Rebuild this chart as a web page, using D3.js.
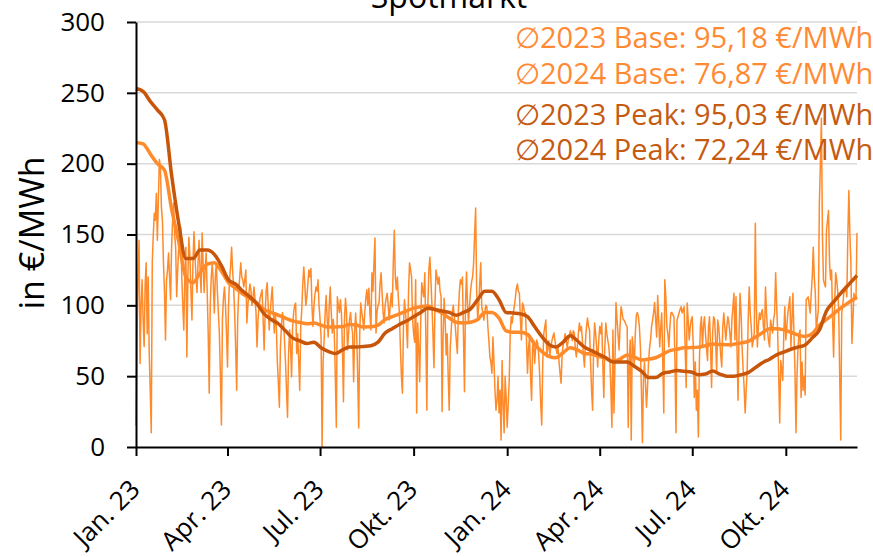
<!DOCTYPE html>
<html lang="de">
<head>
<meta charset="UTF-8">
<title>Spotmarkt</title>
<script src="https://d3js.org/d3.v7.min.js"></script>
<style>
  body { margin: 0; background: #fff; }
  svg { display: block; font-family: "Open Sans", sans-serif; }
  .grid line { stroke: #d9d9d9; stroke-width: 1.5; }
  .axis path, .axis line { stroke: #000; stroke-width: 2; }
  .axis text { font-size: 26px; fill: #000; font-family: "Open Sans", sans-serif; }
</style>
</head>
<body>
<svg width="873" height="557"></svg>
<script>
// === Data ===
const startDate = new Date(2023, 0, 1);

// daily spot price (base), 1 Jan 2023 .. 10 Dec 2024, €/MWh
const dailyPrices = [
  15,80,120,146,59,100,118,90,71,115,130,80,120,66,40,10,130,150,165,160,179,146,175,203,198,169,160,130,110,75.5,
  118,125,137,120,104,141,160,172,150,141,106,125,140,150,155,120,100,82.6,120,141,63.5,120,148,135,110,89.6,130,152,135,120,
  109,130,146,125,109,151,130,109,125,137,110,80,38,100,120,130,115,94.6,120,130,110,95,80,50,15.5,90,105,113,100,80,
  56.5,100,118,127,141,125,113,95,70,40,90,110,120,130,120,118,113,118,125,87.5,100,108,115,111,100,105,113,105,95,70.6,
  90,99,105,108,111,90,68.5,95,110,116,100,82.6,95,105,113,95,80.5,95,85,60,45,28,70,85,95,90,75.5,60,40,21,
  65,82.6,70,49.5,85,94.6,100,101.6,66,80,60,40,85,97,115,127,115,100,106,115,125,120,126,100,85,100,108,113,110,118,
  100,90,77.6,0,60,75.5,95,107,90,77.6,100,113,95,80.5,90,80,50,14,106,100,95,104,94.6,70,32,90,105,95,68.5,80,
  90,95,85,80.5,46,80,94.6,80,50,13.4,80,101.6,95,90,82.6,95,105,111,100,112,95,82.6,123,110,130,147.5,80.5,95,100,101.6,
  115,123,108.5,95,87.5,100,105,108.5,100,89.6,100,108.5,99,130,153,120,111,120,105,94.6,70,50,38,85,104,95,85,70,110,130,
  125,120,89.6,80,74,118,24,87.5,70,46,90,116,110,106,123,80,26,100,125,134,118,100,80,56,100,125,120,115,120,110,
  106,25,80,105,90,65,80,50,26,70,82.6,95,100,92,85,75,66,95,110,118,115,120,80,39,100,123.5,100,87.5,100,110,
  116.5,120,130,150,168.7,110,89.6,100,115,130,99,95,89.6,95,100,99,85,75,63.5,60,52,77.6,60,40,26,33,50,24,40,5,
  61,30,10,50,35,14,30,47,80,92,87.5,95,99,105,112,115,110,108.5,90,75.5,101.6,100,95,94.6,75,52,70,77.6,50,33,
  70.6,75,59,70,75.5,73,65,50,30,15.5,60,80,85,89.6,63.5,70,75,65,70.6,75,78,80.5,75,70,66,70,60,52,45,65,
  72,75.5,80,75,70.6,75,78,82,80.5,75,82,80.5,70,63.5,70.6,80,87.5,82,85,75,65,56.5,75,85,91,85,82.6,60,40,26,
  70,87.5,80,70,56.5,75,85,80,87.5,60,35,70,87.5,80,75,70.6,60,40,14,82.6,24,60,102,90,80,68.5,85,99,95,90,
  89.6,88,86,85,14,60,75.5,5,77.6,70,56.5,80,93,95,92,85,70.6,40,3,47,60,45,28,42,60,70,75.5,85,89.6,95,
  102,90,77.6,107,90,70.6,85,94.6,60,24,118,106,85,80,70.6,85,94.6,95,93,92,60,10,89.6,92,94.6,97,99,94.6,97,99,
  70,42,101.6,90,75.5,85,90,92,70,35,60,26,40,7,60,85,92,70.6,85,92,80,70,61,85,92,70,42,80,92,90,
  75,52,89.6,85,75,65,56.5,85,94.6,85,75.5,85,92,88,80,70.6,90,99,108.5,75.5,106,70,33,80,108.5,94.6,70.6,55,42,24,
  40,54,90,113,94.6,85,70.6,75,80.5,158,100,70.6,85,94.6,90,95,97,85,75.5,113,95,82.6,75,70.6,89.6,85,80.5,90,94.6,123,
  100,80.5,50,17,61,55,47,80,99,75.5,85,94.6,100,106,70.6,90,108.5,80,54,10,50,70.6,80,82.6,35,60,40,50,36.7,104,
  105,106,100,94.6,108.5,120,141,120,108.5,82.6,90,97,172,200,232,150,118,115,113,153,160,167,130,118,125,90,63.5,100,123,118,
  110,97,50,5,94.6,100,108.5,110,113,106,150,181,150,130,73,90,108.5,105,104,151
];

// rolling averages, one value per week from 1 Jan 2023 (last one = 10 Dec 2024)
const baseAvg = [
  215,214,207,200,195.5,168,145,120,116,123,129,130,124,116,112,108,105,101.5,97,95,
  93,91,89,88,87,87.5,86,84.7,84.7,85,86.5,86,84.7,84.8,86,90,92,94,96,98,
  99,99.5,97,94.5,91,88,87.5,88,90,95,95,91,82,81,81,79.5,72.5,67.5,64,63,
  66.5,70,68.5,66,65.5,64,62.5,60.5,62,65,63.5,61.5,62,63,65.5,68,69,70,70.2,70.5,
  71.5,72.7,72.3,72.2,72.6,73.5,74.5,77.5,80.7,83.5,83.5,82.7,81,79,78,80,86,90,94,98,
  101.6,105,106
];
const peakAvg = [
  253,251,244,238,231,192,158,133,133,139,139,136,128,118,115,110,106,101,94,90,
  87,82,77,75,73,74,70,67.5,66,68.5,70.6,70.6,71,71.5,74,80.5,83.5,86.5,89,92,
  95,98,97,96,95,93,95,97.5,104,110,110,104,95,94.6,94,92,85,78,72.5,70.6,
  74,78.5,75,70.5,68,65.5,63,60,60,60,57,53.5,49,49,52,53,54,53.5,53,51,
  51.5,53.7,51.5,50,50,51,52.5,56,59.5,62,65,67,69,70.5,72,77,82.6,96,102.5,108.5,
  114,119.5,121
];

const legendLines = [
  "∅2023 Base: 95,18 €/MWh",
  "∅2024 Base: 76,87 €/MWh",
  "∅2023 Peak: 95,03 €/MWh",
  "∅2024 Peak: 72,24 €/MWh"
];

const yTicks = [0, 50, 100, 150, 200, 250, 300];
const xTickDates = [
  new Date(2023, 0, 1), new Date(2023, 3, 1), new Date(2023, 6, 1), new Date(2023, 9, 1),
  new Date(2024, 0, 1), new Date(2024, 3, 1), new Date(2024, 6, 1), new Date(2024, 9, 1)
];
const xTickLabels = ["Jan. 23", "Apr. 23", "Jul. 23", "Okt. 23", "Jan. 24", "Apr. 24", "Jul. 24", "Okt. 24"];

// === Scales ===
const svg = d3.select("svg");
const endDate = d3.timeDay.offset(startDate, dailyPrices.length - 1);

const x = d3.scaleTime().domain([startDate, endDate]).range([136, 857]);
const y = d3.scaleLinear().domain([0, 300]).range([447, 22]);

const dailyDates = dailyPrices.map((d, i) => d3.timeDay.offset(startDate, i));
const weekDate = i => {
  const d = d3.timeDay.offset(startDate, i * 7);
  return d > endDate ? endDate : d;
};

// === Grid ===
svg.append("g").attr("class", "grid")
  .selectAll("line")
  .data(yTicks.filter(t => t > 0))
  .join("line")
  .attr("x1", 136).attr("x2", 857)
  .attr("y1", d => y(d)).attr("y2", d => y(d));

// === Lines ===
const line = d3.line().x(d => x(d[0])).y(d => y(d[1]));

svg.append("path")
  .datum(dailyPrices.map((v, i) => [dailyDates[i], v]))
  .attr("fill", "none")
  .attr("stroke", "#ff8a2a")
  .attr("stroke-width", 1.5)
  .attr("stroke-linejoin", "round")
  .attr("d", line);

svg.append("path")
  .datum(baseAvg.map((v, i) => [weekDate(i), v]))
  .attr("fill", "none")
  .attr("stroke", "#ff8a2a")
  .attr("stroke-width", 3.5)
  .attr("stroke-linejoin", "round")
  .attr("d", line.curve(d3.curveMonotoneX));

svg.append("path")
  .datum(peakAvg.map((v, i) => [weekDate(i), v]))
  .attr("fill", "none")
  .attr("stroke", "#c8560a")
  .attr("stroke-width", 3.5)
  .attr("stroke-linejoin", "round")
  .attr("d", line.curve(d3.curveMonotoneX));

// === Axes ===
svg.append("g").attr("class", "axis")
  .attr("transform", "translate(136,0)")
  .call(d3.axisLeft(y).tickValues(yTicks).tickSize(9).tickPadding(22).tickSizeOuter(0));

const xAxis = svg.append("g").attr("class", "axis")
  .attr("transform", "translate(0,447)")
  .call(d3.axisBottom(x).tickValues(xTickDates).tickSize(9).tickSizeOuter(0)
    .tickFormat((d, i) => xTickLabels[i]));

xAxis.selectAll("text")
  .attr("text-anchor", "end")
  .attr("x", 0).attr("y", 0).attr("dy", 0)
  .attr("transform", "translate(5,44) rotate(-45)");

// === Titles ===
svg.append("text")
  .attr("x", 449).attr("y", 8)
  .attr("text-anchor", "middle")
  .attr("font-size", 32)
  .text("Spotmarkt");

svg.append("text")
  .attr("transform", "translate(44,233) rotate(-90)")
  .attr("text-anchor", "middle")
  .attr("font-size", 34)
  .text("in €/MWh");

// === Legend ===
const legendY = [48, 83.5, 125, 160];
svg.append("g")
  .selectAll("text")
  .data(legendLines)
  .join("text")
  .attr("x", 515)
  .attr("y", (d, i) => legendY[i])
  .attr("font-size", 29)
  .attr("fill", (d, i) => i < 2 ? "#ff8a33" : "#c55a11")
  .text(d => d);
</script>
</body>
</html>
